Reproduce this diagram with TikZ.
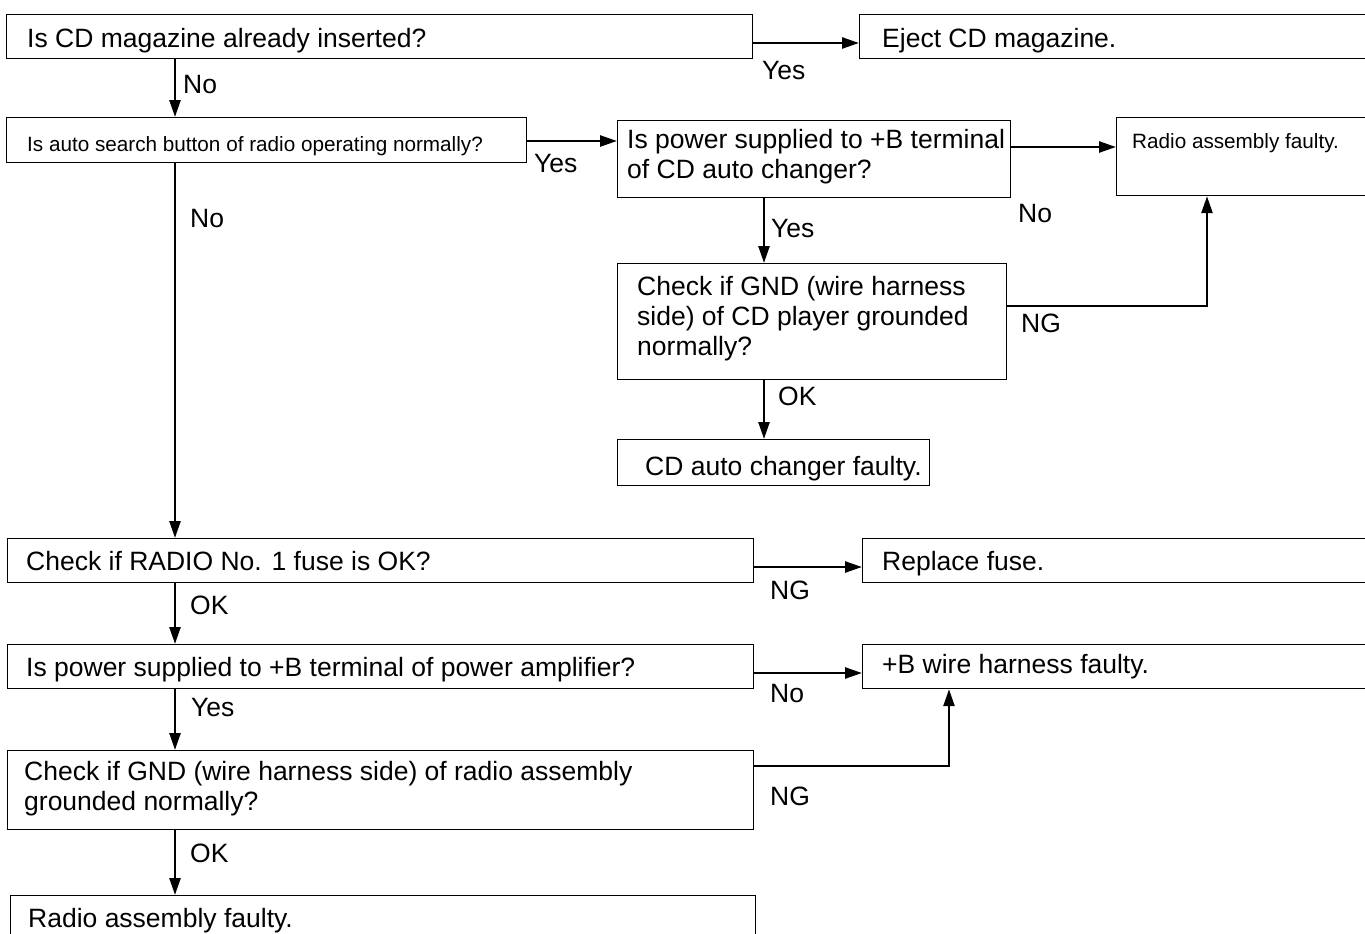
\documentclass[tikz,border=0pt]{standalone}
\usepackage{fontspec}
\setmainfont{Liberation Sans}
\usetikzlibrary{arrows.meta}
\begin{document}
\begin{tikzpicture}[x=1pt,y=-1pt,
  box/.style={draw=black, line width=1.2pt, rectangle, anchor=north west, inner sep=0pt},
  txt/.style={anchor=base west, inner sep=0pt, align=left, font=\fontsize{26.5pt}{30pt}\selectfont},
  stxt/.style={anchor=base west, inner sep=0pt, align=left, font=\fontsize{20.7pt}{25pt}\selectfont},
  lbl/.style={anchor=base west, inner sep=0pt, font=\fontsize{26.5pt}{30pt}\selectfont},
  arr/.style={line width=2.5pt, -{Triangle[length=17pt,width=11pt]}},
  con/.style={line width=2.5pt}]
\useasboundingbox (0,0) rectangle (1365,934);
% boxes
\node[box, minimum width=746pt, minimum height=44pt] (b1) at (6,14) {};
\node[box, minimum width=530pt, minimum height=44pt] (ej) at (859,14) {};
\node[box, minimum width=520pt, minimum height=45pt] (b2) at (6,117) {};
\node[box, minimum width=393pt, minimum height=77pt] (b3) at (617,120) {};
\node[box, minimum width=270pt, minimum height=78pt] (rf) at (1116,117) {};
\node[box, minimum width=389pt, minimum height=116pt] (b4) at (617,263) {};
\node[box, minimum width=312pt, minimum height=46pt] (b5) at (617,439) {};
\node[box, minimum width=746pt, minimum height=44pt] (b6) at (7,538) {};
\node[box, minimum width=530pt, minimum height=44pt] (rp) at (862,538) {};
\node[box, minimum width=746pt, minimum height=44pt] (b7) at (7,644) {};
\node[box, minimum width=530pt, minimum height=44pt] (bw) at (862,644) {};
\node[box, minimum width=746pt, minimum height=79pt] (b8) at (7,750) {};
\node[box, minimum width=745pt, minimum height=60pt] (b9) at (10,895) {};
% texts (base anchor = baseline of last line)
\node[txt] (t1) at (27,48) {Is CD magazine already inserted?};
\node[txt] (tej) at (882,48) {Eject CD magazine.};
\node[stxt] (t2) at (27,151) {Is auto search button of radio operating normally?};
\node[txt] (t3) at (627,178) {Is power supplied to +B terminal\\of CD auto changer?};
\node[stxt] (trf) at (1132,148) {Radio assembly faulty.};
\node[txt] (t4) at (637,355) {Check if GND (wire harness\\side) of CD player grounded\\normally?};
\node[txt] (t5) at (645,475) {CD auto changer faulty.};
\node[txt] (t6) at (26,570) {Check if RADIO No. 1 fuse is OK?};
\node[txt] (trp) at (882,570) {Replace fuse.};
\node[txt] (t7) at (26,676) {Is power supplied to +B terminal of power amplifier?};
\node[txt] (tbw) at (882,673) {+B wire harness faulty.};
\node[txt] (t8) at (24,810) {Check if GND (wire harness side) of radio assembly\\grounded normally?};
\node[txt] (t9) at (28,927) {Radio assembly faulty.};
% helper coordinates
\coordinate (xL) at (175,0);
\coordinate (xR) at (764,0);
\coordinate (y1) at (0,43);
\coordinate (y2) at (0,141);
\coordinate (y3) at (0,147);
\coordinate (y4) at (0,306);
\coordinate (x4) at (1207,0);
\coordinate (y6) at (0,567);
\coordinate (y7) at (0,673);
\coordinate (y8) at (0,766);
\coordinate (x8) at (949,0);
% connectors
\draw[arr] (b1.east |- y1) -- (ej.west |- y1);
\draw[arr] (b1.south -| xL) -- (b2.north -| xL);
\draw[arr] (b2.east |- y2) -- (b3.west |- y2);
\draw[arr] (b3.east |- y3) -- (rf.west |- y3);
\draw[arr] (b3.south -| xR) -- (b4.north -| xR);
\draw[arr] (b4.east |- y4) -| (rf.south -| x4);
\draw[arr] (b4.south -| xR) -- (b5.north -| xR);
\draw[arr] (b2.south -| xL) -- (b6.north -| xL);
\draw[arr] (b6.east |- y6) -- (rp.west |- y6);
\draw[arr] (b6.south -| xL) -- (b7.north -| xL);
\draw[arr] (b7.east |- y7) -- (bw.west |- y7);
\draw[arr] (b7.south -| xL) -- (b8.north -| xL);
\draw[arr] (b8.east |- y8) -| (bw.south -| x8);
\draw[arr] (b8.south -| xL) -- (b9.north -| xL);
% labels
\node[lbl] (l1) at (762,80) {Yes};
\node[lbl] (l2) at (183,93) {No};
\node[lbl] (l3) at (534,172) {Yes};
\node[lbl] (l4) at (1018,222) {No};
\node[lbl] (l5) at (771,237) {Yes};
\node[lbl] (l6) at (190,227) {No};
\node[lbl] (l7) at (1021,332) {NG};
\node[lbl] (l8) at (778,405) {OK};
\node[lbl] (l9) at (770,599) {NG};
\node[lbl] (l10) at (190,614) {OK};
\node[lbl] (l11) at (770,702) {No};
\node[lbl] (l12) at (191,716) {Yes};
\node[lbl] (l13) at (770,805) {NG};
\node[lbl] (l14) at (190,862) {OK};
\end{tikzpicture}
\end{document}
